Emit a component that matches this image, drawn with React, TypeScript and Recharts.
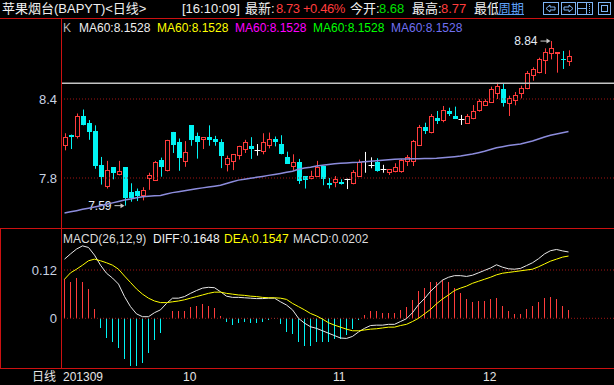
import React from 'react';
import { Bar, Cell, ComposedChart, Line, ReferenceLine, XAxis, YAxis } from 'recharts';

// daily candles, 2013-09 .. 2013-12
const opens = [
  8.04, 8.13, 8.11, 8.27, 8.22, 8.16, 7.9, 7.73, 7.88, 7.82,
  7.88, 7.69, 7.7, 7.66, 7.79, 7.78, 7.94, 7.855, 8.15, 8.075,
  7.925, 8.2, 8.12, 8.09, 8.11, 8.095, 8.075, 7.895, 7.925, 7.97,
  8.01, 8.045, 8.013, 7.995, 8.045, 8.095, 8.06, 7.96, 7.885, 7.92,
  7.815, 7.79, 7.81, 7.89, 7.765, 7.765, 7.772, 7.79, 7.752, 7.81,
  7.93, 7.9, 7.925, 7.866, 7.84, 7.843, 7.848, 7.924, 7.924, 8.045,
  8.187, 8.139, 8.258, 8.233, 8.311, 8.273, 8.248, 8.212, 8.246, 8.311,
  8.349, 8.372, 8.438, 8.476, 8.364, 8.385, 8.44, 8.474, 8.577, 8.595,
  8.691, 8.74, 8.74, 8.704, 8.68,
];
const highs = [
  8.14, 8.13, 8.29, 8.32, 8.24, 8.2, 7.96, 7.93, 7.88, 7.93,
  7.88, 7.76, 7.72, 7.73, 7.84, 7.93, 7.955, 8.09, 8.15, 8.1,
  8.08, 8.2, 8.145, 8.11, 8.2, 8.12, 8.095, 7.97, 7.98, 8.045,
  8.09, 8.11, 8.058, 8.14, 8.145, 8.115, 8.125, 8.0, 7.98, 7.945,
  7.815, 7.855, 7.93, 7.89, 7.8, 7.815, 7.79, 7.795, 7.86, 7.94,
  7.998, 7.957, 7.95, 7.9, 7.866, 7.912, 7.944, 7.975, 8.089, 8.203,
  8.22, 8.286, 8.309, 8.347, 8.334, 8.342, 8.279, 8.286, 8.354, 8.398,
  8.398, 8.494, 8.524, 8.517, 8.425, 8.453, 8.501, 8.613, 8.641, 8.714,
  8.785, 8.84, 8.755, 8.765, 8.77,
];
const lows = [
  8.01, 8.02, 8.1, 8.2, 8.09, 7.87, 7.75, 7.72, 7.79, 7.82,
  7.59, 7.62, 7.625, 7.63, 7.71, 7.78, 7.81, 7.85, 7.99, 7.855,
  7.885, 8.045, 7.947, 8.02, 8.045, 8.045, 7.875, 7.85, 7.86, 7.94,
  7.99, 7.945, 7.97, 7.98, 8.025, 8.04, 7.98, 7.91, 7.86, 7.755,
  7.72, 7.79, 7.81, 7.745, 7.72, 7.73, 7.75, 7.716, 7.752, 7.81,
  7.84, 7.874, 7.848, 7.84, 7.823, 7.843, 7.84, 7.891, 7.891, 8.045,
  8.134, 8.139, 8.21, 8.223, 8.271, 8.248, 8.203, 8.212, 8.246, 8.304,
  8.349, 8.372, 8.4, 8.342, 8.271, 8.352, 8.405, 8.474, 8.539, 8.595,
  8.59, 8.701, 8.6, 8.628, 8.651,
];
const closes = [
  8.11, 8.11, 8.27, 8.2, 8.15, 7.89, 7.81, 7.86, 7.84, 7.85,
  7.65, 7.65, 7.66, 7.71, 7.82, 7.92, 7.88, 8.085, 8.05, 7.955,
  7.995, 8.085, 8.075, 8.11, 8.085, 8.075, 7.97, 7.95, 7.98, 8.045,
  8.075, 8.02, 8.013, 8.07, 8.095, 8.075, 7.98, 7.91, 7.92, 7.78,
  7.785, 7.815, 7.885, 7.79, 7.75, 7.79, 7.757, 7.79, 7.843, 7.925,
  7.93, 7.9, 7.856, 7.866, 7.866, 7.881, 7.937, 7.957, 8.081, 8.187,
  8.16, 8.271, 8.236, 8.314, 8.288, 8.248, 8.248, 8.271, 8.309, 8.385,
  8.385, 8.474, 8.499, 8.367, 8.405, 8.43, 8.486, 8.595, 8.628, 8.701,
  8.755, 8.785, 8.755, 8.694, 8.73,
];
const ma60 = [
  7.534, 7.543, 7.552, 7.562, 7.571, 7.58, 7.59, 7.6, 7.611, 7.622,
  7.633, 7.641, 7.65, 7.658, 7.662, 7.665, 7.668, 7.678, 7.689, 7.696,
  7.703, 7.71, 7.718, 7.725, 7.731, 7.738, 7.745, 7.758, 7.771, 7.784,
  7.791, 7.798, 7.805, 7.812, 7.82, 7.827, 7.835, 7.843, 7.852, 7.866,
  7.876, 7.882, 7.891, 7.897, 7.903, 7.909, 7.912, 7.914, 7.917, 7.919,
  7.923, 7.927, 7.931, 7.935, 7.939, 7.942, 7.944, 7.945, 7.946, 7.947,
  7.948, 7.949, 7.95, 7.954, 7.958, 7.962, 7.967, 7.974, 7.982, 7.992,
  8.003, 8.016, 8.03, 8.038, 8.046, 8.052, 8.058, 8.069, 8.081, 8.096,
  8.112, 8.124, 8.135, 8.144, 8.1528,
];
const diffs = [
  0.147, 0.16, 0.172, 0.18, 0.176, 0.157, 0.132, 0.112, 0.1, 0.085,
  0.054, 0.029, 0.011, 0.004, 0.004, 0.014, 0.021, 0.037, 0.05, 0.05,
  0.054, 0.062, 0.069, 0.075, 0.077, 0.076, 0.066, 0.055, 0.052, 0.052,
  0.051, 0.05, 0.049, 0.049, 0.05, 0.05, 0.041, 0.033, 0.021, 0.0,
  -0.012, -0.021, -0.025, -0.031, -0.037, -0.043, -0.049, -0.05, -0.045, -0.034,
  -0.025, -0.018, -0.017, -0.017, -0.015, -0.015, -0.008, -0.001, 0.014, 0.034,
  0.049, 0.067, 0.081, 0.095, 0.102, 0.106, 0.106, 0.104, 0.107, 0.113,
  0.119, 0.125, 0.133, 0.127, 0.123, 0.122, 0.124, 0.131, 0.138, 0.148,
  0.16, 0.168, 0.171, 0.1675, 0.1648,
];
const deas = [
  0.097, 0.113, 0.122, 0.132, 0.143, 0.147, 0.143, 0.138, 0.132, 0.122,
  0.105, 0.089, 0.073, 0.06, 0.05, 0.043, 0.039, 0.039, 0.041, 0.043,
  0.046, 0.05, 0.054, 0.058, 0.062, 0.065, 0.065, 0.062, 0.06, 0.058,
  0.057, 0.055, 0.054, 0.052, 0.051, 0.051, 0.05, 0.047, 0.037, 0.029,
  0.021, 0.012, 0.006, -0.002, -0.011, -0.017, -0.022, -0.027, -0.031, -0.031,
  -0.029, -0.027, -0.026, -0.024, -0.022, -0.022, -0.018, -0.015, -0.008, 0.0,
  0.011, 0.022, 0.036, 0.048, 0.058, 0.069, 0.075, 0.08, 0.087, 0.092,
  0.097, 0.102, 0.108, 0.112, 0.114, 0.116, 0.118, 0.12, 0.122, 0.128,
  0.135, 0.142, 0.147, 0.152, 0.1547,
];
const macdBars = [
  0.097, 0.09, 0.1, 0.09, 0.073, 0.022, -0.023, -0.048, -0.058, -0.073,
  -0.102, -0.118, -0.118, -0.11, -0.085, -0.055, -0.036, 0.001, 0.017, 0.017,
  0.019, 0.029, 0.031, 0.036, 0.031, 0.026, 0.006, -0.008, -0.017, -0.012,
  -0.008, -0.012, -0.012, -0.008, -0.004, -0.001, -0.014, -0.033, -0.039, -0.06,
  -0.07, -0.07, -0.058, -0.058, -0.06, -0.052, -0.052, -0.041, -0.027, -0.004,
  0.008, 0.019, 0.017, 0.014, 0.014, 0.014, 0.021, 0.029, 0.045, 0.068,
  0.075, 0.091, 0.091, 0.095, 0.089, 0.075, 0.062, 0.048, 0.041, 0.043,
  0.043, 0.047, 0.051, 0.031, 0.018, 0.011, 0.011, 0.023, 0.031, 0.04,
  0.05, 0.052, 0.048, 0.031, 0.0202,
];

const monthStarts = [0, 20, 45, 70];
const monthLabels = ['201309', '10', '11', '12'];
const priceTicks = [7.8, 8.4];
const macdTicks = [0, 0.12];
const resistance = 8.52;

const maLabels = ['MA60:8.1528', 'MA60:8.1528', 'MA60:8.1528', 'MA60:8.1528', 'MA60:8.1528'];
const maColors = ['#eeeeee', '#ffff00', '#ff00ff', '#00ff00', '#7070f0'];
const maLeft = [79, 157, 235, 313, 391];

const FONT = "'Liberation Sans', Arial, 'Noto Sans CJK SC', sans-serif";
const UP = '#ff3c3c';
const DOWN = '#00f4f4';
const GRID = '#a01414';
const FRAME = '#cc1111';
const AXIS_TEXT = '#c9d3e3';

const rows = opens.map((open, i) => ({
  i,
  open,
  high: highs[i],
  low: lows[i],
  close: closes[i],
  range: [lows[i], highs[i]],
  ma60: ma60[i],
  diff: diffs[i],
  dea: deas[i],
  macd: macdBars[i],
}));

const hiIdx = highs.indexOf(Math.max(...highs));
const loIdx = lows.indexOf(Math.min(...lows));

// arrow label "8.84 ->" pointing at the extreme candle
const Marker = ({ cx, yy, text }: { cx: number; yy: number; text: string }) => (
  <g>
    <text x={cx - 14} y={yy} dy="0.36em" textAnchor="end" fill="#e4ecf6" fontSize={12} fontFamily={FONT}>
      {text}
    </text>
    <line x1={cx - 11} x2={cx - 4} y1={yy} y2={yy} stroke="#c8c8c8" />
    <polygon points={`${cx - 1},${yy} ${cx - 5},${yy - 2.5} ${cx - 5},${yy + 2.5}`} fill="#c8c8c8" />
  </g>
);

const Candle = (props: any) => {
  const { x, y, width, height, payload } = props;
  if (!payload) return null;
  const { open, close, high, low, i } = payload;
  const cx = Math.floor(x + width / 2) + 0.5;
  const k = height / (high - low);
  const py = (p: number) => y + (high - p) * k;
  const flat = close === open;
  const up = close > open;
  const color = flat ? '#ffffff' : up ? UP : DOWN;
  const top = Math.round(py(Math.max(open, close)));
  const bot = Math.round(py(Math.min(open, close)));

  return (
    <g>
      <line x1={cx} x2={cx} y1={py(high)} y2={py(low)} stroke={color} />
      {flat && <line x1={cx - 3} x2={cx + 3} y1={top + 0.5} y2={top + 0.5} stroke={color} />}
      {up && (
        <rect x={cx - 2} y={top + 0.5} width={4} height={Math.max(bot - top - 1, 1)} fill="#000" stroke={UP} />
      )}
      {!flat && !up && <rect x={cx - 2.5} y={top} width={5} height={Math.max(bot - top, 1)} fill={DOWN} />}
      {i === hiIdx && <Marker cx={cx} yy={py(high)} text={high.toFixed(2)} />}
      {i === loIdx && <Marker cx={cx} yy={py(low)} text={low.toFixed(2)} />}
    </g>
  );
};

// crisp 1px histogram stick
const Stick = (props: any) => {
  const { x, y, width, height, fill } = props;
  const cx = Math.floor(x + width / 2) + 0.5;
  const y1 = Math.round(y);
  const y2 = Math.round(y + height);
  if (y1 === y2) return null;
  return <line x1={cx} x2={cx} y1={y1} y2={y2} stroke={fill} strokeWidth={1} />;
};

const MonthTick = (props: any) => {
  const { x, y, payload } = props;
  const idx = monthStarts.indexOf(payload.value);
  return (
    <text x={x - 1.5} y={y + 13} fill="#e6e6e6" fontSize={12} fontFamily={FONT}>
      {monthLabels[idx]}
    </text>
  );
};

const span = (left: number, color: string, text: string, extra: React.CSSProperties = {}) => (
  <span style={{ position: 'absolute', left, top: 0, color, whiteSpace: 'nowrap', ...extra }}>{text}</span>
);

const Icons = () => (
  <svg width={614} height={18} style={{ position: 'absolute', left: 0, top: 0 }}>
    <g fill="none" stroke="#7eb4f4">
      <rect x={543.5} y={2.5} width={15} height={12} />
      <polyline points="546,8.5 550,5 550,7 555,7 555,10 550,10 550,12 546,8.5" />
      <rect x={561.5} y={2.5} width={14} height={12} />
      <polyline points="573,8.5 569,5 569,7 564,7 564,10 569,10 569,12 573,8.5" />
      <rect x={577.5} y={2.5} width={15} height={12} />
      <line x1={577.5} x2={586.5} y1={8.5} y2={8.5} />
      <line x1={586.5} x2={586.5} y1={2.5} y2={14.5} />
      <line x1={589.5} x2={589.5} y1={4} y2={13} strokeDasharray="1 1" />
      <rect x={598.5} y={2.5} width={12} height={12} />
      <rect x={601.5} y={5.5} width={6} height={6} />
    </g>
  </svg>
);

const App = () => {
  return (
    <div
      style={{
        position: 'absolute',
        left: 0,
        top: 0,
        width: 614,
        height: 385,
        background: '#000',
        overflow: 'hidden',
        fontFamily: FONT,
      }}
    >
      {/* header */}
      <div style={{ position: 'absolute', left: 0, top: 0, width: 614, height: 18, fontSize: 13, lineHeight: '18px' }}>
        {span(2, '#f0f0f0', '苹果烟台(BAPYT)<日线>')}
        {span(182, '#f0f0f0', '[16:10:09]')}
        {span(245, '#f0f0f0', '最新:')}
        {span(276, '#ff3c3c', '8.73 +0.46%', { letterSpacing: -0.4 })}
        {span(350, '#f0f0f0', '今开:')}
        {span(379, '#00e000', '8.68')}
        {span(412, '#f0f0f0', '最高:')}
        {span(441, '#ff3c3c', '8.77')}
        {span(474, '#f0f0f0', '最低')}
        {span(498, '#5c9ef4', '周期', { textDecoration: 'underline', background: '#000' })}
        <Icons />
      </div>

      {/* K / MA legend */}
      <div style={{ position: 'absolute', left: 0, top: 20, width: 614, height: 16, fontSize: 12, lineHeight: '16px' }}>
        {span(63, '#b8b8b8', 'K')}
        {maLabels.map((t, k) => (
          <React.Fragment key={k}>{span(maLeft[k], maColors[k], t)}</React.Fragment>
        ))}
      </div>

      {/* price panel */}
      <div style={{ position: 'absolute', left: 0, top: 18 }}>
        <ComposedChart width={614} height={210} data={rows} margin={{ top: 0, right: 0, bottom: 0, left: 0 }}>
          <XAxis dataKey="i" hide padding={{ left: 0.5, right: 42.5 }} />
          <YAxis
            domain={[7.4203, 9.0152]}
            allowDataOverflow
            ticks={priceTicks}
            width={61}
            axisLine={false}
            tickLine={false}
            tickSize={2}
            tickMargin={2}
            tick={{ fill: AXIS_TEXT, fontSize: 13, fontFamily: FONT }}
            tickFormatter={(v: number) => v.toFixed(1)}
          />
          <ReferenceLine y={8.4} stroke={GRID} strokeDasharray="1 2" />
          <ReferenceLine y={7.8} stroke={GRID} strokeDasharray="1 2" />
          <ReferenceLine y={resistance} stroke="#c4c4c4" strokeWidth={1.5} />
          <Line dataKey="ma60" stroke="#8c8cdc" strokeWidth={1.5} dot={false} isAnimationActive={false} />
          <Bar dataKey="range" barSize={5} shape={Candle} isAnimationActive={false} />
        </ComposedChart>
      </div>

      {/* MACD title */}
      <div style={{ position: 'absolute', left: 0, top: 231, width: 614, height: 16, fontSize: 12, lineHeight: '16px' }}>
        {span(63, '#dcdcdc', 'MACD(26,12,9)')}
        {span(153, '#f0f0f0', 'DIFF:0.1648')}
        {span(224, '#ffff00', 'DEA:0.1547')}
        {span(293, '#dcdcdc', 'MACD:0.0202')}
      </div>

      {/* MACD panel */}
      <div style={{ position: 'absolute', left: 0, top: 229 }}>
        <ComposedChart width={614} height={156} data={rows} margin={{ top: 0, right: 0, bottom: 0, left: 0 }}>
          <XAxis
            dataKey="i"
            padding={{ left: 0.5, right: 42.5 }}
            ticks={monthStarts}
            interval={0}
            height={17}
            axisLine={false}
            tickLine={false}
            tickSize={0}
            tickMargin={0}
            tick={MonthTick}
          />
          <YAxis
            domain={[-0.1235, 0.2219]}
            allowDataOverflow
            ticks={macdTicks}
            width={61}
            axisLine={false}
            tickLine={false}
            tickSize={2}
            tickMargin={2}
            tick={{ fill: AXIS_TEXT, fontSize: 13, fontFamily: FONT }}
            tickFormatter={(v: number) => (v === 0 ? '0' : v.toFixed(2))}
          />
          <ReferenceLine y={0.12} stroke={GRID} strokeDasharray="1 2" />
          <ReferenceLine y={0} stroke={GRID} strokeDasharray="1 2" />
          <Bar dataKey="macd" barSize={2} shape={Stick} isAnimationActive={false}>
            {rows.map((r) => (
              <Cell key={r.i} fill={r.macd >= 0 ? UP : DOWN} />
            ))}
          </Bar>
          <Line dataKey="diff" stroke="#e8e8e8" strokeWidth={1} dot={false} isAnimationActive={false} />
          <Line dataKey="dea" stroke="#ffff00" strokeWidth={1} dot={false} isAnimationActive={false} />
        </ComposedChart>
      </div>

      {/* frame */}
      <svg width={614} height={385} style={{ position: 'absolute', left: 0, top: 0, pointerEvents: 'none' }}>
        <g stroke={FRAME} fill="none">
          <line x1={0} x2={614} y1={18.5} y2={18.5} />
          <line x1={61.5} x2={61.5} y1={18} y2={229} />
          <line x1={0} x2={614} y1={228.5} y2={228.5} />
          <line x1={0} x2={614} y1={368.5} y2={368.5} />
          <line x1={0.5} x2={0.5} y1={228} y2={369} />
          <line x1={61.5} x2={61.5} y1={228} y2={369} />
        </g>
        <text x={56} y={381} textAnchor="end" fill="#e6e6e6" fontSize={12} fontFamily={FONT}>
          日线
        </text>
      </svg>
    </div>
  );
};

export default App;
